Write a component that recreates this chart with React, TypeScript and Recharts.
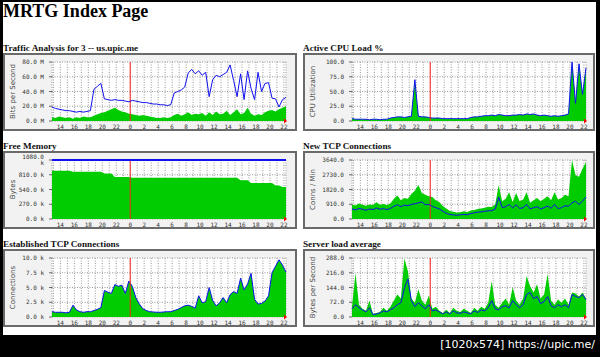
import React from "react";
import {
    ComposedChart,
    Area,
    Line,
    XAxis,
    YAxis,
    CartesianGrid,
    ReferenceLine,
    ReferenceDot,
} from "recharts";

// time axis: hours since midnight of day 1, one sample every 30 min (12:48 .. 22:18 next day)
const times = Array.from({ length: 68 }, (_, i) => 12.8 + i * 0.5);
const hourTicks = [13, 14, 15, 16, 17, 18, 19, 20, 21, 22, 23, 24, 25, 26, 27, 28, 29, 30, 31, 32, 33, 34, 35, 36, 37, 38, 39, 40, 41, 42, 43, 44, 45, 46];

const trafficIn = [5, 4, 6, 5, 4, 5, 3, 5, 4, 6, 5, 5, 7, 9, 11, 12, 14, 16, 18, 15, 13, 12, 10, 9, 8, 7, 8, 7, 6, 5, 4, 4, 5, 4, 5, 8, 10, 7, 9, 12, 8, 10, 9, 11, 7, 12, 8, 13, 9, 10, 14, 8, 12, 16, 9, 11, 18, 10, 7, 9, 8, 12, 14, 15, 13, 16, 18, 20];
const trafficOut = [19, 17, 16, 15, 14, 14, 13, 12, 13, 12, 13, 14, 43, 47, 51, 30, 29, 28, 29, 28, 28, 27, 26, 28, 27, 26, 25, 25, 24, 23, 23, 22, 22, 21, 22, 38, 40, 42, 46, 65, 70, 64, 68, 62, 66, 33, 56, 62, 60, 63, 66, 76, 55, 33, 64, 29, 68, 44, 29, 66, 40, 51, 52, 31, 30, 19, 29, 32];

const cpuLoad = [4, 3, 3, 3, 3, 2, 3, 3, 2, 3, 3, 5, 6, 7, 7, 6, 7, 8, 70, 8, 7, 7, 6, 5, 5, 5, 4, 4, 4, 4, 4, 4, 4, 4, 6, 7, 7, 8, 9, 9, 10, 9, 11, 10, 9, 9, 10, 10, 11, 10, 12, 11, 12, 10, 9, 10, 9, 8, 9, 8, 9, 10, 12, 100, 30, 97, 45, 90];

const memFree = [882, 882, 882, 882, 882, 882, 864, 864, 864, 864, 864, 864, 864, 864, 864, 833, 833, 833, 771, 771, 771, 771, 771, 753, 753, 753, 753, 753, 753, 753, 753, 753, 753, 753, 753, 753, 753, 753, 753, 753, 753, 753, 753, 753, 753, 753, 753, 753, 753, 753, 753, 753, 753, 753, 710, 710, 710, 660, 660, 660, 660, 660, 660, 660, 611, 611, 586, 586];
const memTotalTimes = [12.8, 46.3];
const memTotal = [1080, 1080];

const tcpNewIn = [900, 840, 950, 880, 820, 900, 860, 1040, 880, 920, 860, 950, 1250, 1450, 1150, 1300, 1250, 1550, 1750, 2100, 1600, 1500, 1400, 1350, 1150, 1050, 800, 650, 500, 450, 400, 420, 480, 430, 520, 560, 620, 650, 700, 760, 740, 900, 2080, 1100, 1250, 1650, 1050, 1600, 1100, 1200, 1650, 1000, 1150, 1300, 1100, 1250, 1400, 1150, 1650, 1200, 1300, 1500, 1400, 3640, 2700, 2600, 3100, 3500];
const tcpNewOut = [620, 560, 650, 600, 540, 620, 580, 680, 600, 640, 580, 650, 780, 880, 760, 860, 820, 900, 940, 1000, 1050, 880, 900, 780, 700, 620, 480, 350, 280, 250, 230, 260, 280, 260, 330, 380, 420, 440, 480, 500, 520, 600, 1350, 700, 760, 900, 680, 880, 650, 700, 900, 620, 700, 760, 620, 700, 800, 660, 900, 640, 700, 820, 780, 1000, 1100, 900, 1100, 1350];

const tcpEstablished = [0.9, 0.8, 0.8, 0.8, 0.7, 0.8, 2.0, 1.2, 0.9, 0.8, 0.9, 0.9, 1.1, 1.3, 1.6, 4.5, 4.2, 4.0, 5.5, 5.2, 5.4, 4.0, 6.1, 5.2, 3.3, 2.2, 1.4, 1.1, 0.9, 0.85, 0.8, 0.8, 0.85, 0.9, 0.9, 1.1, 1.3, 1.6, 1.9, 2.0, 1.8, 1.5, 3.6, 2.4, 2.6, 5.0, 2.8, 1.9, 2.4, 3.3, 2.4, 3.8, 4.3, 4.0, 6.6, 4.6, 5.6, 7.4, 3.0, 2.2, 2.3, 2.7, 3.6, 7.5, 8.6, 9.7, 8.8, 7.6];

const loadIn = [50, 215, 60, 40, 30, 80, 15, 20, 25, 45, 30, 50, 80, 110, 90, 285, 225, 90, 70, 135, 80, 60, 105, 40, 50, 30, 20, 35, 20, 45, 30, 25, 40, 30, 20, 45, 30, 50, 40, 70, 175, 60, 45, 70, 90, 60, 145, 80, 60, 90, 200, 150, 120, 160, 90, 110, 210, 80, 60, 85, 70, 90, 60, 120, 115, 100, 120, 90];
const loadOut = [40, 60, 45, 35, 25, 45, 12, 15, 20, 30, 25, 35, 45, 60, 70, 140, 185, 80, 50, 70, 55, 40, 60, 30, 35, 25, 15, 25, 15, 30, 20, 18, 25, 20, 15, 30, 22, 35, 30, 45, 80, 40, 35, 50, 55, 45, 80, 60, 45, 60, 110, 120, 90, 100, 65, 75, 100, 55, 45, 60, 50, 60, 45, 110, 100, 95, 110, 85];

const rowsOf = (inVals: number[], outVals?: number[]) =>
    times.map((t, i) => ({ t, in: inVals[i], out: outVals ? outVals[i] : undefined }));

const GREEN = "#00cc00";
const BLUE = "#1010f0";
const tickFont = { fontSize: 6, fill: "#333", fontFamily: "DejaVu Sans Mono" };

interface PanelProps {
    title: string;
    left: number;
    top: number;
    boxWidth: number;
    rows: any[];
    yMax: number;
    yTicks: number[];
    fmt: (v: number) => string;
    yLabel: string;
    outKey?: boolean;
    areaStroke?: string;
    outData?: any[];
}

function Panel({ title, left, top, boxWidth, rows, yMax, yTicks, fmt, yLabel, outKey, areaStroke, outData }: PanelProps) {
    return (
        <>
            <div style={{ position: "absolute", left, top: top - 10, font: "bold 9.2px 'Liberation Serif'", lineHeight: "10px", whiteSpace: "nowrap", color: "#111" }}>
                {title}
            </div>
            <div style={{ position: "absolute", left, top, width: boxWidth, height: 78, boxSizing: "border-box", border: "2px solid #6a6a6a", background: "#f2f2f2" }} />
            <div style={{ position: "absolute", left, top }}>
                <ComposedChart width={294} height={82} data={rows} margin={{ top: 9, right: 11, bottom: 0, left: 0 }}>
                    <CartesianGrid fill="#fff" stroke="#999" strokeDasharray="1 1.5" />
                    <XAxis
                        dataKey="t"
                        type="number"
                        domain={[12.8, 46.3]}
                        ticks={hourTicks}
                        interval={0}
                        tickFormatter={(h: number) => (h % 2 === 0 ? String(h % 24) : "")}
                        axisLine={false}
                        tickLine={false}
                        tickSize={2}
                        tickMargin={2}
                        height={14}
                        tick={tickFont}
                    />
                    <YAxis
                        type="number"
                        domain={[0, yMax]}
                        ticks={yTicks}
                        interval={0}
                        tickFormatter={fmt}
                        width={49}
                        axisLine={false}
                        tickSize={3}
                        tickMargin={5}
                        tickLine={{ stroke: "#666" }}
                        tick={tickFont}
                        label={{ value: yLabel, angle: -90, position: "insideLeft", offset: 10, style: { textAnchor: "middle", fontSize: 7, fill: "#444", fontFamily: "DejaVu Sans" } }}
                    />
                    <Area type="linear" dataKey="in" fill={GREEN} fillOpacity={1} stroke={areaStroke ?? "none"} strokeWidth={1} isAnimationActive={false} dot={false} activeDot={false} />
                    <ReferenceLine x={24} stroke="#ff2020" strokeWidth={1} />
                    {outKey && <Line type="linear" dataKey="out" stroke={BLUE} strokeWidth={1} dot={false} activeDot={false} isAnimationActive={false} />}
                    {outData && <Line data={outData} type="linear" dataKey="out" stroke={BLUE} strokeWidth={2} dot={false} activeDot={false} isAnimationActive={false} />}
                    <ReferenceDot
                        x={46.3}
                        y={0}
                        shape={(p: any) => <polygon points={`${p.cx - 2},${p.cy - 2.5} ${p.cx + 1},${p.cy} ${p.cx - 2},${p.cy + 2.5}`} fill="#ff0000" />}
                    />
                </ComposedChart>
            </div>
        </>
    );
}

export default function App() {
    const memLine = memTotalTimes.map((t, i) => ({ t, out: memTotal[i] }));
    return (
        <div style={{ position: "absolute", left: 0, top: 0, width: 600, height: 357, background: "#000", overflow: "hidden" }}>
            <div style={{ position: "absolute", left: 3, top: 2, width: 593, height: 333, background: "#fff" }} />
            <div style={{ position: "absolute", left: 3, top: 2, font: "bold 18px 'Liberation Serif'", lineHeight: "18px", whiteSpace: "nowrap", color: "#000" }}>
                MRTG Index Page
            </div>

            <Panel title="Traffic Analysis for 3 -- us.upic.me" left={3} top={53} boxWidth={294} rows={rowsOf(trafficIn, trafficOut)} yMax={80} yTicks={[0, 20, 40, 60, 80]} fmt={(v) => v.toFixed(1) + " M"} yLabel="Bits per Second" outKey />
            <Panel title="Active CPU Load %" left={303} top={53} boxWidth={292} rows={rowsOf(cpuLoad)} yMax={100} yTicks={[0, 25, 50, 75, 100]} fmt={(v) => v.toFixed(1)} yLabel="CPU Utilization" areaStroke={BLUE} />

            <Panel title="Free Memory" left={3} top={151} boxWidth={294} rows={rowsOf(memFree)} yMax={1080} yTicks={[0, 270, 540, 810, 1080]} fmt={(v) => v.toFixed(1) + " k"} yLabel="Bytes" outData={memLine} />
            <Panel title="New TCP Connections" left={303} top={151} boxWidth={292} rows={rowsOf(tcpNewIn, tcpNewOut)} yMax={3640} yTicks={[0, 910, 1820, 2730, 3640]} fmt={(v) => v.toFixed(1)} yLabel="Conns / Min" outKey />

            <Panel title="Established TCP Connections" left={3} top={249} boxWidth={294} rows={rowsOf(tcpEstablished)} yMax={10} yTicks={[0, 2.5, 5, 7.5, 10]} fmt={(v) => v.toFixed(1) + " k"} yLabel="Connections" areaStroke={BLUE} />
            <Panel title="Server load average" left={303} top={249} boxWidth={292} rows={rowsOf(loadIn, loadOut)} yMax={288} yTicks={[0, 72, 144, 216, 288]} fmt={(v) => v.toFixed(1)} yLabel="Bytes per Second" outKey />

            <div style={{ position: "absolute", right: 5, top: 338, font: "11px 'DejaVu Sans'", lineHeight: "13px", color: "#fff", whiteSpace: "nowrap" }}>
                [1020x574] https://upic.me/
            </div>
        </div>
    );
}
